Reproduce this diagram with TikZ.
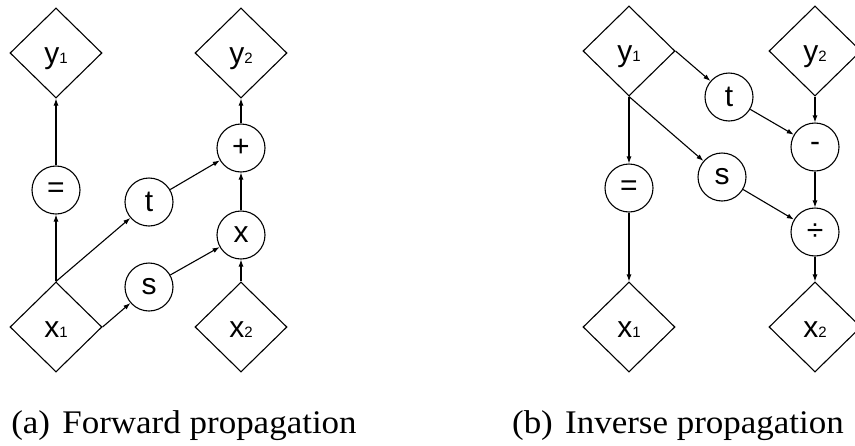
\documentclass[tikz,border=0pt]{standalone}
\usepackage{fontspec}
\setmainfont{Liberation Serif}
\newfontfamily\labfont{Liberation Sans}
\usetikzlibrary{shapes.geometric,arrows.meta}
\tikzset{
  dia/.style={draw, diamond, minimum width=92pt, minimum height=90pt, inner sep=0pt,
    text height=21pt, text depth=0pt, font=\labfont\fontsize{30}{30}\selectfont},
  op/.style={draw, circle, minimum size=48pt, inner sep=0pt,
    font=\labfont\fontsize{30}{30}\selectfont},
  arr/.style={-{Latex[length=7pt,width=5pt]}, line width=1.1pt},
  captext/.style={font=\fontsize{33}{33}\selectfont, anchor=base, xscale=1.06},
}
\newcommand{\sbs}[1]{{\fontsize{15}{15}\selectfont #1}}
\begin{document}
\begin{tikzpicture}[x=1pt, y=-1pt, line width=1.1pt]
\useasboundingbox (0,0) rectangle (855,445);
% (a) forward
\node[dia] (y1) at (56,53) {y\sbs{1}};
\node[dia] (y2) at (241,53) {y\sbs{2}};
\node[dia] (x1) at (56,327) {x\sbs{1}};
\node[dia] (x2) at (241,327) {x\sbs{2}};
\node[op] (eq) at (56,190) {=};
\node[op] (t) at (149,202) {t};
\node[op] (plus) at (241,148) {+};
\node[op] (mul) at (241,235) {x};
\node[op] (s) at (149,287) {s};
\draw[arr] (x1.north) -- (eq.south);
\draw[arr] (eq.north) -- (y1.south);
\draw[arr] (x1.north) -- (t);
\draw[arr] (x1.east) -- (s);
\draw[arr] (t) -- (plus);
\draw[arr] (s) -- (mul);
\draw[arr] (x2.north) -- (mul.south);
\draw[arr] (mul.north) -- (plus.south);
\draw[arr] (plus.north) -- (y2.south);
% (b) inverse
\node[dia] (by1) at (629,51) {y\sbs{1}};
\node[dia] (by2) at (815,51) {y\sbs{2}};
\node[dia] (bx1) at (629,327) {x\sbs{1}};
\node[dia] (bx2) at (815,327) {x\sbs{2}};
\node[op] (beq) at (629,188) {=};
\node[op] (bt) at (729,97) {t};
\node[op] (bs) at (722,177) {s};
\node[op] (bminus) at (815,147) {-};
\node[op] (bdiv) at (815,232) {÷};
\draw[arr] (by1.east) -- (bt);
\draw[arr] (by1.south) -- (beq.north);
\draw[arr] (by1.south) -- (bs);
\draw[arr] (by2.south) -- (bminus.north);
\draw[arr] (bt) -- (bminus);
\draw[arr] (bminus.south) -- (bdiv.north);
\draw[arr] (bs) -- (bdiv);
\draw[arr] (bdiv.south) -- (bx2.north);
\draw[arr] (beq.south) -- (bx1.north);
% captions
\node[captext] (capa) at (184,433) {(a)\hspace{0.35em}Forward propagation};
\node[captext] (capb) at (678,433) {(b)\hspace{0.35em}Inverse propagation};
\end{tikzpicture}
\end{document}
